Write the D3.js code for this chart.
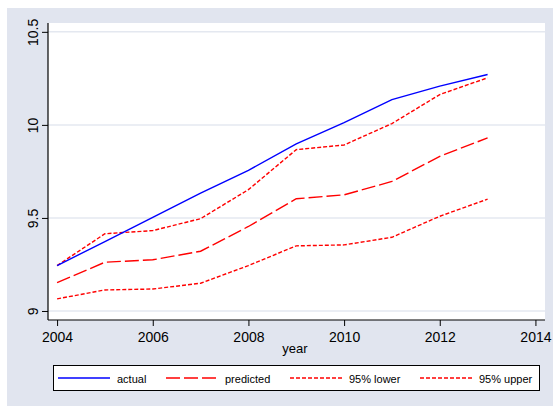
<!DOCTYPE html>
<html>
<head>
<meta charset="utf-8">
<script src="https://cdn.jsdelivr.net/npm/d3@7"></script>
<style>
  html, body { margin: 0; padding: 0; background: #ffffff; }
  svg { display: block; font-family: "Liberation Sans", Arial, sans-serif; }
</style>
</head>
<body>
<svg id="chart" width="553" height="406"></svg>
<script>
// Observed and fitted series by year, with 95% interval bounds
const years     = [2004, 2005, 2006, 2007, 2008, 2009, 2010, 2011, 2012, 2013];
const actual    = [9.244, 9.373, 9.503, 9.633, 9.756, 9.898, 10.012, 10.136, 10.208, 10.271];
const predicted = [9.152, 9.262, 9.275, 9.321, 9.454, 9.603, 9.624, 9.696, 9.831, 9.930];
const lower95   = [9.065, 9.113, 9.118, 9.149, 9.244, 9.350, 9.355, 9.396, 9.509, 9.601];
const upper95   = [9.244, 9.415, 9.432, 9.496, 9.652, 9.867, 9.892, 10.007, 10.163, 10.253];

const xTicks = [2004, 2006, 2008, 2010, 2012, 2014];
const yTicks = [9, 9.5, 10, 10.5];
const legendLabels = ["actual", "predicted", "95% lower", "95% upper"];

const svg = d3.select("#chart");
const bg = "#e1e5ef";
const gridColor = "#e4e8f0";

// outer graph region
svg.append("rect").attr("x", 7).attr("y", 8).attr("width", 546).attr("height", 398).attr("fill", bg);

// plot region
const plot = { left: 48, right: 545, top: 23, bottom: 320 };
svg.append("rect")
  .attr("x", plot.left).attr("y", plot.top)
  .attr("width", plot.right - plot.left).attr("height", plot.bottom - plot.top)
  .attr("fill", "#ffffff");

const x = d3.scaleLinear().domain([2003.81, 2014.2]).range([plot.left, plot.right]);
const y = d3.scaleLinear().domain([8.9515, 10.5475]).range([plot.bottom, plot.top]);

// horizontal grid
svg.append("g").selectAll("line").data(yTicks).join("line")
  .attr("x1", plot.left).attr("x2", plot.right)
  .attr("y1", d => y(d)).attr("y2", d => y(d))
  .attr("stroke", gridColor).attr("stroke-width", 1.5);

// series lines
const series = [
  { values: actual,    color: "#0000ff", dash: null },
  { values: predicted, color: "#ff0000", dash: "14,4" },
  { values: lower95,   color: "#ff0000", dash: "4,2" },
  { values: upper95,   color: "#ff0000", dash: "4,2" }
];
const lineGen = d3.line().x((d, i) => x(years[i])).y(d => y(d));
svg.append("g").selectAll("path").data(series.slice().reverse()).join("path")
  .attr("d", s => lineGen(s.values))
  .attr("fill", "none")
  .attr("stroke", s => s.color)
  .attr("stroke-width", 1.4)
  .attr("stroke-dasharray", s => s.dash);

// y axis
const yAxis = svg.append("g").attr("transform", `translate(${plot.left},0)`)
  .call(d3.axisLeft(y).tickValues(yTicks).tickSize(6).tickSizeOuter(0).tickFormat(d3.format("")));
yAxis.select(".domain").attr("stroke", "#000").attr("stroke-width", 1.2)
  .attr("d", `M0,${plot.top}V${plot.bottom}`);
yAxis.selectAll(".tick line").attr("stroke", "#000");
yAxis.selectAll(".tick text")
  .attr("x", null).attr("dy", null)
  .attr("transform", "translate(-10,0) rotate(-90)")
  .attr("text-anchor", "middle")
  .attr("fill", "#000")
  .attr("font-size", 14)
  .attr("font-family", "Liberation Sans, Arial, sans-serif");

// x axis
const xAxis = svg.append("g").attr("transform", `translate(0,${plot.bottom})`)
  .call(d3.axisBottom(x).tickValues(xTicks).tickSize(6).tickSizeOuter(0).tickFormat(d3.format("d")));
xAxis.select(".domain").attr("stroke", "#000").attr("stroke-width", 1.2)
  .attr("d", `M${plot.left},0H${plot.right}`);
xAxis.selectAll(".tick line").attr("stroke", "#000");
xAxis.selectAll(".tick text")
  .attr("y", 22).attr("dy", null)
  .attr("fill", "#000")
  .attr("font-size", 14)
  .attr("font-family", "Liberation Sans, Arial, sans-serif");

// axis title
svg.append("text").attr("x", 295).attr("y", 352.5)
  .attr("text-anchor", "middle").attr("font-size", 13).attr("fill", "#000")
  .text("year");

// legend
svg.append("rect").attr("x", 53.5).attr("y", 365.5).attr("width", 486).attr("height", 25)
  .attr("fill", "#fff").attr("stroke", "#000").attr("stroke-width", 1);
const legendX = [58, 166, 290, 420];
const legendG = svg.append("g").selectAll("g").data(series).join("g")
  .attr("transform", (d, i) => `translate(${legendX[i]},378)`);
legendG.append("line")
  .attr("x1", 0).attr("x2", 52).attr("y1", 0).attr("y2", 0)
  .attr("stroke", d => d.color).attr("stroke-width", 1.4)
  .attr("stroke-dasharray", d => d.dash);
legendG.append("text")
  .attr("x", 59).attr("y", 4.5)
  .attr("font-size", 11).attr("fill", "#000")
  .text((d, i) => legendLabels[i]);
</script>
</body>
</html>
